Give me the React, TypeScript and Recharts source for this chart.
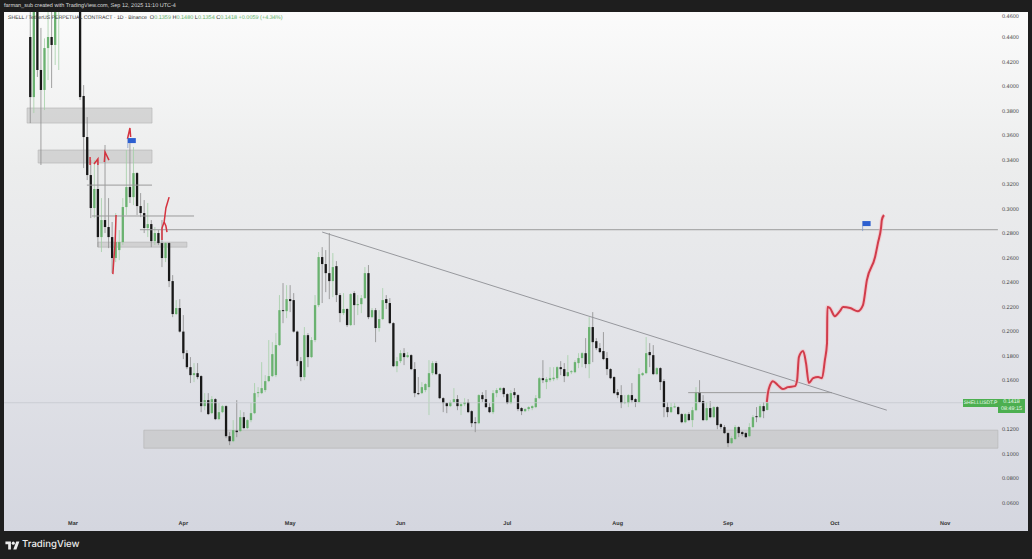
import { Bar, ComposedChart, Line, ReferenceArea, ReferenceDot, ReferenceLine, XAxis, YAxis } from "recharts"

// x values are days counted from Mar 1, y values are prices
const monthTicks = [0, 31, 61, 92, 122, 153, 184, 214, 245]
const monthLabels = ["Mar", "Apr", "May", "Jun", "Jul", "Aug", "Sep", "Oct", "Nov"]
const priceTicks = [0.06, 0.08, 0.1, 0.12, 0.16, 0.18, 0.2, 0.22, 0.24, 0.26, 0.28, 0.3, 0.32, 0.34, 0.36, 0.38, 0.4, 0.42, 0.44, 0.46]

const days = [
    -12, -11, -10, -9, -8, -7, -6, -5, -4,
    2, 3, 4, 5, 6, 7, 8, 9, 10, 11,
    12, 13, 14, 15, 16, 17, 18, 19, 20, 21,
    22, 23, 24, 25, 26, 27, 28, 29, 30, 31,
    32, 33, 34, 35, 36, 37, 38, 39, 40, 41,
    42, 43, 44, 45, 46, 47, 48, 49, 50, 51,
    52, 53, 54, 55, 56, 57, 58, 59, 60, 61,
    62, 63, 64, 65, 66, 67, 68, 69, 70, 71,
    72, 73, 74, 75, 76, 77, 78, 79, 80, 81,
    82, 83, 84, 85, 86, 87, 88, 89, 90, 91,
    92, 93, 94, 95, 96, 97, 98, 99, 100, 101,
    102, 103, 104, 105, 106, 107, 108, 109, 110, 111,
    112, 113, 114, 115, 116, 117, 118, 119, 120, 121,
    122, 123, 124, 125, 126, 127, 128, 129, 130, 131,
    132, 133, 134, 135, 136, 137, 138, 139, 140, 141,
    142, 143, 144, 145, 146, 147, 148, 149, 150, 151,
    152, 153, 154, 155, 156, 157, 158, 159, 160, 161,
    162, 163, 164, 165, 166, 167, 168, 169, 170, 171,
    172, 173, 174, 175, 176, 177, 178, 179, 180, 181,
    182, 183, 184, 185, 186, 187, 188, 189, 190, 191,
    192, 193, 194, 195,
]

const opens = [
    .4401, .3911, .50, .4132, .3969, .4311, .4401, .4336, .50,
    .50, .3920, .3585, .3275, .3006, .3161, .2769, .2908, .2851, .2769,
    .2598, .2663, .2728, .3014, .3177, .3095, .3291, .3022, .2965, .2843,
    .2875, .2736, .2802, .2720, .2598, .2720, .2410, .2141, .2190, .1998,
    .1822, .1708, .1643, .1659, .1635, .1390, .1439, .1333, .1447, .1284,
    .1341, .1390, .1145, .1104, .1190, .1186, .1300, .1211, .1276, .1333,
    .1496, .1496, .1521, .1594, .1635, .1643, .1888, .2173, .2165, .2263,
    .2255, .1998, .1757, .1627, .1969, .1790, .1929, .2214, .2606, .2549,
    .2475, .2410, .2532, .2296, .2149, .2182, .2051, .2312, .2214, .2222,
    .2271, .2475, .2116, .2173, .2027, .2100, .2263, .2231, .2067, .1716,
    .1757, .1822, .1790, .1806, .1692, .1496, .1496, .1521, .1545, .1659,
    .1741, .1651, .1455, .1415, .1390, .1423, .1447, .1390, .1406, .1423,
    .1349, .1259, .1251, .1480, .1447, .1382, .1341, .1496, .1521, .1537,
    .1488, .1415, .1504, .1480, .1374, .1349, .1366, .1374, .1382, .1455,
    .1618, .1586, .1602, .1610, .1618, .1708, .1692, .1635, .1667, .1667,
    .1741, .1782, .1822, .1733, .2035, .1920, .1863, .1839, .1782, .1692,
    .1627, .1504, .1480, .1415, .1415, .1480, .1447, .1423, .1643, .1659,
    .1831, .1806, .1651, .1700, .1594, .1382, .1341, .1382, .1382, .1325,
    .1259, .1325, .1276, .1357, .1504, .1431, .1276, .1374, .1300, .1382,
    .1243, .1219, .1170, .1088, .1121, .1219, .1178, .1170, .1145, .1219,
    .1308, .1300, .1390, .1359,
]

const closes = [
    .3911, .50, .4132, .3969, .4311, .4401, .4336, .50, .52,
    .3911, .3585, .3275, .3006, .3161, .2769, .2908, .2851, .2769, .2598,
    .2728, .2728, .3014, .3177, .3095, .3291, .3022, .2965, .2843, .2875,
    .2736, .2802, .2720, .2598, .2720, .2410, .2141, .2190, .1998, .1822,
    .1708, .1643, .1659, .1627, .1390, .1439, .1325, .1447, .1284, .1341,
    .1390, .1145, .1104, .1194, .1178, .1300, .1211, .1276, .1333, .1496,
    .1504, .1537, .1594, .1635, .1814, .1888, .2173, .2165, .2263, .2247,
    .1998, .1757, .1627, .1969, .1790, .1929, .2214, .2606, .2549, .2475,
    .2410, .2524, .2296, .2149, .2182, .2051, .2304, .2214, .2222, .2271,
    .2475, .2116, .2173, .2027, .2100, .2255, .2231, .2067, .1716, .1757,
    .1822, .1790, .1806, .1692, .1496, .1488, .1545, .1570, .1659, .1741,
    .1651, .1455, .1415, .1390, .1423, .1447, .1390, .1406, .1423, .1341,
    .1251, .1251, .1480, .1447, .1382, .1341, .1496, .1521, .1537, .1488,
    .1415, .1496, .1480, .1366, .1349, .1366, .1382, .1390, .1455, .1618,
    .1602, .1610, .1618, .1622, .1708, .1692, .1635, .1667, .1675, .1749,
    .1782, .1822, .1733, .2035, .1912, .1863, .1831, .1774, .1692, .1618,
    .1496, .1480, .1415, .1423, .1480, .1439, .1423, .1651, .1659, .1822,
    .1806, .1651, .1700, .1586, .1382, .1341, .1382, .1388, .1325, .1259,
    .1325, .1276, .1357, .1504, .1423, .1276, .1374, .1300, .1382, .1235,
    .1219, .1170, .1088, .1129, .1219, .1170, .1162, .1137, .1219, .1300,
    .1300, .1390, .1349, .1418,
]

const highs = [
    .50, .52, .52, .4475, .4390, .50, .50, .52, .53,
    .52, .4009, .3748, .3397, .3397, .3397, .3087, .3520, .3087, .2892,
    .2965, .2826, .3087, .3479, .3536, .3503, .3300, .3128, .3071, .3047,
    .2908, .2851, .2826, .2908, .2728, .2728, .2459, .2255, .2263, .2133,
    .1847, .1790, .1741, .1741, .1643, .1496, .1496, .1472, .1455, .1415,
    .1398, .1398, .1178, .1276, .1439, .1357, .1341, .1284, .1415, .1578,
    .1545, .1749, .1643, .1929, .1912, .1986, .2296, .2394, .2377, .2377,
    .2312, .2006, .1790, .2035, .1986, .1953, .2296, .2647, .2687, .2663,
    .2802, .2639, .2573, .2312, .2312, .2190, .2312, .2328, .2296, .2296,
    .2524, .2541, .2190, .2190, .2173, .2353, .2296, .2271, .2075, .1790,
    .1847, .1863, .1831, .1814, .1749, .1627, .1586, .1578, .1765, .1757,
    .1757, .1659, .1463, .1423, .1439, .1537, .1480, .1423, .1455, .1447,
    .1357, .1300, .1488, .1504, .1521, .1415, .1521, .1537, .1545, .1545,
    .1496, .1521, .1537, .1488, .1382, .1374, .1390, .1398, .1480, .1627,
    .1765, .1627, .1708, .1708, .1716, .1757, .1741, .1806, .1684, .1765,
    .1822, .1831, .1945, .2116, .2157, .1945, .1904, .1994, .1831, .1700,
    .1635, .1529, .1561, .1480, .1488, .1578, .1455, .1700, .1667, .1953,
    .1904, .1888, .1708, .1708, .1610, .1423, .1415, .1415, .1390, .1333,
    .1333, .1341, .1382, .1545, .1602, .1480, .1423, .1431, .1390, .1390,
    .1251, .1235, .1178, .1145, .1235, .1227, .1186, .1178, .1251, .1317,
    .1382, .1406, .1423, .1480,
]

const lows = [
    .3699, .3781, .4075, .3357, .3805, .4050, .3985, .4173, .4132,
    .3887, .3332, .3234, .2924, .2924, .2687, .2647, .2802, .2679, .2475,
    .2565, .2581, .2704, .2949, .3047, .3030, .2949, .2932, .2802, .2769,
    .2687, .2704, .2704, .2524, .2565, .2361, .2116, .2133, .1990, .1774,
    .1692, .1578, .1586, .1610, .1341, .1357, .1317, .1325, .1276, .1276,
    .1333, .1129, .1072, .1096, .1137, .1178, .1202, .1202, .1259, .1325,
    .1463, .1488, .1504, .1586, .1627, .1627, .1880, .2067, .2108, .2157,
    .1990, .1716, .1594, .1602, .1708, .1782, .1912, .2198, .2231, .2320,
    .2263, .2279, .2239, .2075, .2133, .2035, .2043, .2051, .2133, .2149,
    .2263, .2100, .2108, .1912, .1998, .2092, .2182, .2059, .1708, .1667,
    .1741, .1725, .1782, .1684, .1463, .1480, .1488, .1504, .1317, .1643,
    .1643, .1447, .1341, .1333, .1382, .1415, .1357, .1317, .1390, .1333,
    .1219, .1178, .1243, .1423, .1374, .1333, .1325, .1463, .1504, .1463,
    .1406, .1406, .1455, .1349, .1317, .1341, .1349, .1357, .1374, .1447,
    .1578, .1529, .1586, .1594, .1602, .1643, .1586, .1627, .1651, .1659,
    .1700, .1708, .1700, .1618, .1749, .1847, .1822, .1765, .1643, .1610,
    .1488, .1455, .1374, .1406, .1382, .1415, .1382, .1415, .1635, .1651,
    .1708, .1643, .1643, .1521, .1300, .1300, .1333, .1374, .1317, .1251,
    .1251, .1268, .1219, .1349, .1415, .1268, .1268, .1292, .1292, .1202,
    .1202, .1162, .1056, .1080, .1113, .1137, .1145, .1129, .1137, .1211,
    .1259, .1292, .1292, .1354,
]

// hand drawn projection and the small red marks near the March candles
const projectionDays = [194.9, 195.2, 195.8, 196.6, 198, 199.4, 200.8, 202.8, 203.4, 203.9, 205.1, 205.9, 206.7, 207.9, 209.3, 210.4, 211.2, 211.8, 211.9, 212.6, 214, 215.4, 216.3, 218.3, 220.5, 221.9, 223, 225.3, 226.1, 227, 227.2, 227.8]
const projectionPrices = [.1423, .1496, .1561, .1594, .1561, .1529, .1545, .1553, .1602, .1790, .1839, .1741, .1578, .1618, .1627, .1618, .1765, .1904, .2198, .2190, .2124, .2165, .2198, .2190, .2165, .2214, .2418, .2606, .2720, .2851, .2908, .2949]
const markDays = [
    [15.3, 16.0, 16.2],
    [8.8, 9.0, 10.1],
    [4.8, 4.8],
    [5.9, 7.0, 7.0],
    [12.1, 11.8, 11.5, 11.2],
    [27, 26.1, 25.6, 25, 25],
    [25.6, 26.1, 26.4],
]
const markPrices = [
    [.3569, .3659, .3585],
    [.3381, .3463, .3397],
    [.3422, .3357],
    [.3365, .3406, .3357],
    [.2949, .2704, .2598, .2467],
    [.3095, .3006, .2892, .2843, .2745],
    [.2892, .2859, .2810],
]

// drawn boxes: first day, last day, top price, bottom price
const zoneStarts = [-12.9, -9.8, 7.0, 19.9]
const zoneEnds = [22.2, 22.2, 32, 259.8]
const zoneTops = [.3822, .3479, .2728, .1194]
const zoneBottoms = [.3699, .3373, .2687, .1047]

// flat drawn levels
const levelStarts = [18.8, 5.3, 3.9, 172.8]
const levelEnds = [259.8, 34, 22.2, 213.2]
const levelPrices = [.2829, .2941, .3193, .1500]

const trendDays = [70, 228.6]
const trendPrices = [.2810, .1357]
const lastPrice = 0.1418

const flagDays = [15.4, 221.8]
const flagPrices = [.3495, .2818]

const candles = days.map((day, i) => ({ day, open: opens[i], high: highs[i], low: lows[i], close: closes[i] }))
const toPoints = (xs: number[], ys: number[]) => xs.map((day, i) => ({ day, price: ys[i] }))

const BODY_WIDTH = 2.3

const Candle = (props: any) => {
    const { x, y, width, height, payload } = props
    const range = payload.high - payload.low
    const toY = (price: number) => y + ((payload.high - price) / range) * height
    const up = payload.close >= payload.open
    const top = toY(Math.max(payload.open, payload.close))
    const bottom = toY(Math.min(payload.open, payload.close))
    const middle = x + width / 2
    return (
        <g>
            <line x1={middle} x2={middle} y1={y} y2={y + height} stroke={up ? "#a3cfa6" : "#8c8c8c"} strokeWidth={0.8} />
            <rect x={middle - BODY_WIDTH / 2} y={top} width={BODY_WIDTH} height={Math.max(bottom - top, 1)} fill={up ? "#6ab270" : "#181818"} />
        </g>
    )
}

const Flag = ({ cx, cy }: any) => (
    <g>
        <line x1={cx} x2={cx} y1={cy} y2={cy - 10} stroke="#7a93c9" strokeWidth={0.7} />
        <rect x={cx} y={cy - 10} width={8} height={5} fill="#2c5fd0" />
    </g>
)

const labelFont = "'Liberation Sans', Arial, sans-serif"
const up = { color: "#62b068" }

// the top tick sits on the chart's edge, so it is held just inside
const PriceTick = ({ x, y, payload }: any) => (
    <text x={x} y={Math.max(y, 4)} dy="0.35em" fontSize={5.5} fill="#444" fontFamily={labelFont} textRendering="geometricPrecision">
        {payload.value.toFixed(4)}
    </text>
)

export default function App() {
    return (
        <div style={{ position: "fixed", left: 0, top: 0, width: 1032, height: 559, background: "#1e1e1e", overflow: "hidden", fontFamily: labelFont, textRendering: "geometricPrecision" }}>
            <div style={{ position: "absolute", left: 4, top: 2, fontSize: 5.5, lineHeight: "8px", color: "#dcdcdc", whiteSpace: "nowrap" }}>
                farman_sub created with TradingView.com, Sep 12, 2025 11:10 UTC-4
            </div>
            <div style={{ position: "absolute", left: 4, top: 12, width: 1024, height: 519, background: "linear-gradient(180deg, #fbfbfb 0%, #eceded 30%, #e2e3e8 65%, #d4d6df 100%)" }}>
                <ComposedChart width={1024} height={519} data={candles} margin={{ top: 0, right: 0, bottom: 0, left: 0 }}>
                    <XAxis
                        dataKey="day"
                        type="number"
                        domain={[-19.38, 259.83]}
                        allowDataOverflow
                        ticks={monthTicks}
                        interval={0}
                        height={16}
                        axisLine={false}
                        tickLine={false}
                        tickSize={0}
                        tickMargin={6}
                        tick={{ fontSize: 5.5, fill: "#333", fontFamily: labelFont, fontWeight: 700 }}
                        tickFormatter={(value: number) => monthLabels[monthTicks.indexOf(value)]}
                    />
                    <YAxis
                        orientation="right"
                        type="number"
                        width={30}
                        domain={[0.0502, 0.4605]}
                        allowDataOverflow
                        ticks={priceTicks}
                        interval={0}
                        axisLine={false}
                        tickLine={false}
                        tickSize={0}
                        tickMargin={4}
                        tick={<PriceTick />}
                    />
                    {zoneStarts.map((start, i) => (
                        <ReferenceArea key={i} x1={start} x2={zoneEnds[i]} y1={zoneBottoms[i]} y2={zoneTops[i]} fill="#c4c4c4" fillOpacity={0.65} stroke="#b2b2b2" strokeWidth={0.6} />
                    ))}
                    <ReferenceLine y={lastPrice} stroke="#c5c9cf" strokeWidth={0.8} />
                    <Bar dataKey={(d: any) => [d.low, d.high]} barSize={3} shape={<Candle />} isAnimationActive={false} />
                    {levelStarts.map((start, i) => (
                        <ReferenceLine
                            key={i}
                            segment={[{ x: start, y: levelPrices[i] }, { x: levelEnds[i], y: levelPrices[i] }]}
                            stroke="#9a9a9a"
                            strokeWidth={1}
                        />
                    ))}
                    <ReferenceLine
                        segment={[{ x: trendDays[0], y: trendPrices[0] }, { x: trendDays[1], y: trendPrices[1] }]}
                        stroke="#8d8f94"
                        strokeWidth={0.9}
                    />
                    <Line data={toPoints(projectionDays, projectionPrices)} dataKey="price" type="monotone" stroke="#f5b9bf" strokeWidth={4} strokeOpacity={0.6} dot={false} activeDot={false} isAnimationActive={false} />
                    <Line data={toPoints(projectionDays, projectionPrices)} dataKey="price" type="monotone" stroke="#d13c4b" strokeWidth={2} dot={false} activeDot={false} isAnimationActive={false} />
                    {markDays.map((xs, i) => (
                        <Line key={i} data={toPoints(xs, markPrices[i])} dataKey="price" type="linear" stroke="#d5333f" strokeWidth={1.5} dot={false} activeDot={false} isAnimationActive={false} />
                    ))}
                    {flagDays.map((day, i) => (
                        <ReferenceDot key={i} x={day} y={flagPrices[i]} r={1} shape={<Flag />} />
                    ))}
                </ComposedChart>
            </div>
            <div style={{ position: "absolute", left: 8, top: 15, lineHeight: "7px", color: "#333", whiteSpace: "nowrap", fontSize: 5.2 }}>
                SHELL / TetherUS PERPETUAL CONTRACT · 1D · Binance&nbsp;&nbsp;
                <span style={{ fontSize: 5.5 }}>
                    O<span style={up}>0.1359</span> H<span style={up}>0.1480</span> L<span style={up}>0.1354</span> C<span style={up}>0.1418</span> <span style={up}>+0.0059 (+4.34%)</span>
                </span>
            </div>
            <div style={{ position: "absolute", left: 963, top: 399, width: 35, height: 8, background: "#4caf50", color: "#eaf7ea", fontSize: 5, lineHeight: "8px", textAlign: "center" }}>SHELLUSDT.P</div>
            <div style={{ position: "absolute", left: 998, top: 399, width: 27, height: 14, background: "#4caf50", color: "#eaf7ea", fontSize: 5.4, lineHeight: "7px", textAlign: "center" }}>
                0.1418<br />08:49:15
            </div>
            <svg style={{ position: "absolute", left: 5, top: 540 }} width={15} height={11} viewBox="0 0 36 28">
                <path d="M14 24H7V11H0V4h14v20zM28 24h-8l7.5-20h8L28 24z" fill="#ececec" />
                <circle cx="20" cy="8" r="4" fill="#ececec" />
            </svg>
            <div style={{ position: "absolute", left: 22, top: 538, fontFamily: "Inter, sans-serif", fontSize: 9.6, lineHeight: "14px", fontWeight: 500, color: "#ececec" }}>TradingView</div>
        </div>
    )
}
